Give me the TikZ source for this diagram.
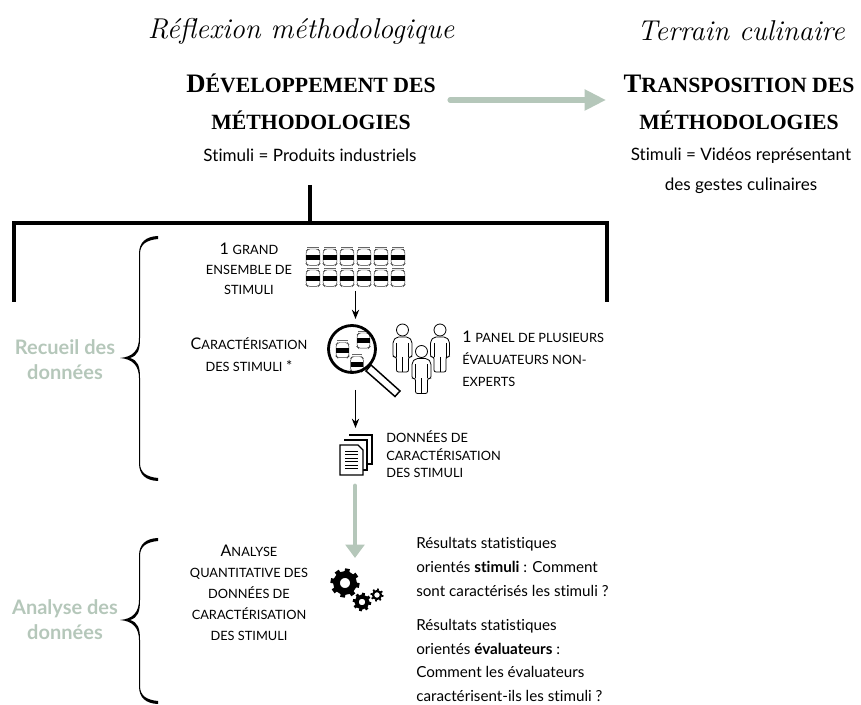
\documentclass[tikz,border=0pt]{standalone}
\usepackage{fontspec}
\usetikzlibrary{arrows.meta}
\setmainfont{Lato}[Ligatures=NoCommon]
\newfontfamily\titlefont{Liberation Serif}[BoldFont={Liberation Serif Bold}]
\newfontfamily\scriptf{Latin Modern Roman}
\definecolor{sage}{HTML}{B5C7BA}
\newcommand{\fsz}[1]{\fontsize{#1}{#1}\selectfont}
\newcommand{\capA}[1]{{\fsz{12}#1}}
\newcommand{\capB}[1]{{\fsz{9.6}#1}}
\newcommand{\ttA}[1]{{\fsz{20}#1}}
\newcommand{\ttB}[1]{{\fsz{16.3}#1}}
\tikzset{
  x=0.75pt,y=-0.75pt,
  bar/.style={line width=3pt,line cap=rect},
  thinarrow/.style={line width=1pt,-{Stealth[length=7pt,width=5.5pt]}},
  greenarrow/.style={line width=3.6pt,draw=sage,line cap=round,-{Triangle[length=10pt,width=14pt]}},
  scripttext/.style={font=\scriptf\itshape\fsz{21.5},inner sep=0},
  titletext/.style={font=\titlefont\bfseries,align=center,inner sep=0,text height=12pt},
  sbody/.style={font=\fsz{12.8},align=center,inner sep=0},
  body/.style={font=\fsz{11},align=center,inner sep=0},
  bodyleft/.style={font=\fsz{10.9},align=left,inner sep=0},
  side/.style={font=\bfseries\fsz{15},text=sage,align=center,inner sep=0},
  jar/.pic={
    \draw[line width=.35pt,draw=black!80,fill=white,rounded corners=1.4] (-5,-7) -- (-6.8,-5) -- (-6.8,8) -- (-5.5,9.3) -- (5.5,9.3) -- (6.8,8) -- (6.8,-5) -- (5,-7) -- cycle;
    \fill[black!60] (-5.8,-9.3) rectangle (5.8,-8.3);
    \fill (-6.8,-1.2) rectangle (6.8,3.8);
  },
  person/.pic={
    \draw[line width=.6pt] (0,-7) circle (6);
    \draw[line width=.6pt,rounded corners=1.5,fill=white] (-6,20) -- (-9.5,20) -- (-9.5,4) -- (-6,0) -- (6,0) -- (9.5,4) -- (9.5,20) -- (6,20) -- (6,35) -- (-6,35) -- cycle;
    \draw[line width=.6pt] (-6,6) -- (-6,20) (6,6) -- (6,20) (0,20) -- (0,35);
  },
  gearicon/.pic={
    \draw[line width=\pgfkeysvalueof{/tikz/gearw}pt] (0,0) circle (\pgfkeysvalueof{/tikz/gearr});
    \foreach \a in {0,45,...,315}
      \draw[line width=\pgfkeysvalueof{/tikz/geartw}pt] (\a+10:\pgfkeysvalueof{/tikz/gearr}) -- (\a+10:\pgfkeysvalueof{/tikz/geart});
  },
  gearw/.initial=3, geartw/.initial=3, gearr/.initial=9, geart/.initial=14,
  page/.style={line width=1.05pt,draw=black,fill=white},
}
\begin{document}
\begin{tikzpicture}
\useasboundingbox (0,0) rectangle (861,705);
% headings
\node[scripttext] (h1) at (301,31) {Réflexion méthodologique};
\node[scripttext] (h2) at (741,31) {Terrain culinaire};
\node[titletext] (t1a) at (311,85) {\ttA{D}\ttB{ÉVELOPPEMENT DES}};
\node[titletext] (t1b) at (311,122) {\ttB{MÉTHODOLOGIES}};
\node[titletext] (t2a) at (739,85) {\ttA{T}\ttB{RANSPOSITION DES}};
\node[titletext] (t2b) at (739,122) {\ttB{MÉTHODOLOGIES}};
\node[sbody] (s1) at (310,155) {Stimuli = Produits industriels};
\node[sbody] (s2a) at (741,155.5) {Stimuli = Vidéos représentant};
\node[sbody] (s2b) at (741,185.5) {des gestes culinaires};
\coordinate (bigS) at (450,100);
\coordinate (bigE) at (606,100);
\draw[line width=3.8pt,draw=sage,line cap=round,-{Triangle[length=16pt,width=15pt]}] (bigS) -- (bigE);
% top bracket
\coordinate (stemT) at (310,185);
\coordinate (stemB) at (310,223);
\coordinate (bL) at (14,302);
\coordinate (bR) at (607,302);
\draw[bar,line cap=butt] (stemT) -- (stemB);
\draw[bar,line cap=butt,line join=miter] (bL) |- (bR |- stemB) -- (bR);
% braces
\foreach \t/\m/\b in {236/358/481, 538/620/704}{
  \fill (158,\t) .. controls (146,\t+0.5) and (139,\t+6) .. (139,\t+18)
     -- (139,\m-20) .. controls (139,\m-8) and (133,\m-1) .. (120,\m)
     .. controls (133,\m+1) and (139,\m+8) .. (139,\m+20)
     -- (139,\b-18) .. controls (139,\b-6) and (146,\b-0.5) .. (158,\b)
     -- (158,\b-3) .. controls (147,\b-4) and (140,\b-8) .. (140,\b-18)
     -- (140,\m+20) .. controls (140,\m+8) and (138,\m+2.5) .. (130,\m)
     .. controls (138,\m-2.5) and (140,\m-8) .. (140,\m-20)
     -- (140,\t+18) .. controls (140,\t+8) and (147,\t+4) .. (158,\t+3) -- cycle;
}
\node[side] (r1) at (65,359.5) {Recueil des\\[3.5pt]données};
\node[side] (r2) at (65,619.5) {Analyse des\\[3.5pt]données};
% left labels
\node[body] (l1) at (249,269) {\capA{1} \capB{GRAND}\\[4pt]\capB{ENSEMBLE DE}\\[4pt]\capB{STIMULI}};
\node[body] (l2) at (249,354.5) {\capA{C}\capB{ARACTÉRISATION}\\[5.5pt]\capB{DES STIMULI} *};
\node[body] (l3) at (249,593) {\capA{A}\capB{NALYSE}\\[4.75pt]\capB{QUANTITATIVE DES}\\[4.75pt]\capB{DONNÉES DE}\\[4.75pt]\capB{CARACTÉRISATION}\\[4.75pt]\capB{DES STIMULI}};
\node[bodyleft,anchor=west] (p1) at (462,359) {\capA{1} \capB{PANEL DE PLUSIEURS}\\[5.6pt]\capB{ÉVALUATEURS NON-}\\[5.6pt]\capB{EXPERTS}};
\node[bodyleft,anchor=west] (d1) at (386,454.5) {\capB{DONNÉES DE}\\[2.3pt]\capB{CARACTÉRISATION}\\[2.3pt]\capB{DES STIMULI}};
\node[bodyleft,anchor=west,font=\fsz{11.4}] (q1) at (416,567) {Résultats statistiques\\[6.6pt]orientés \textbf{stimuli} : Comment\\[6.6pt]sont caractérisés les stimuli ?};
\node[bodyleft,anchor=west,font=\fsz{11.4}] (q2) at (416,660.5) {Résultats statistiques\\[6.4pt]orientés \textbf{évaluateurs} :\\[6.4pt]Comment les évaluateurs\\[6.4pt]caractérisent-ils les stimuli ?};
% jars
\foreach \c in {313,330,347,364,381,398}{
  \pic at (\c,256) {jar};
  \pic at (\c,277) {jar};
}
\coordinate (jarsB) at (355.5,291);
\coordinate (lensT) at (355.5,319);
\draw[thinarrow] (jarsB) -- (lensT);
% magnifier
\pic[scale=.93] at (342.5,349) {jar};
\pic[scale=.93] at (363.5,339.5) {jar};
\pic[scale=.93] at (357,363) {jar};
\coordinate (lens) at (352,349);
\draw[line width=1.1pt,fill=white] (371,365) -- (400,391) -- (395,396.5) -- (366,371) -- cycle;
\draw[line width=2.1pt] (lens) circle (23.5);
% people
\pic at (402.5,337) {person};
\pic at (440,337) {person};
\pic at (421.5,358.5) {person};
% lower arrows
\coordinate (lensB) at (355.5,390);
\coordinate (docT) at (355.5,428);
\draw[thinarrow] (lensB) -- (docT);
% documents
\draw[page] (349,435) -- (372,435) -- (372,464) -- (367,464);
\draw[page] (344,440) -- (367,440) -- (367,470) -- (362,470);
\draw[page] (340,445) -- (358,445) -- (363,450) -- (363,475) -- (340,475) -- cycle;
\foreach \y in {451,454.5,458,461.5,465,468.5}
  \draw[line width=.7pt] (345,\y) -- (358,\y);
% green arrow
\coordinate (docB) at (355,486);
\coordinate (gearT) at (355,558);
\draw[greenarrow] (docB) -- (gearT);
% gears
\pic[gearw=5,geartw=3.6,gearr=8.5,geart=14.5] at (345,583) {gearicon};
\pic[gearw=3,geartw=2.2,gearr=5.5,geart=9.2] at (362,602) {gearicon};
\pic[gearw=1.6,geartw=1.3,gearr=4,geart=6.5] at (377,595) {gearicon};
\end{tikzpicture}
\end{document}
